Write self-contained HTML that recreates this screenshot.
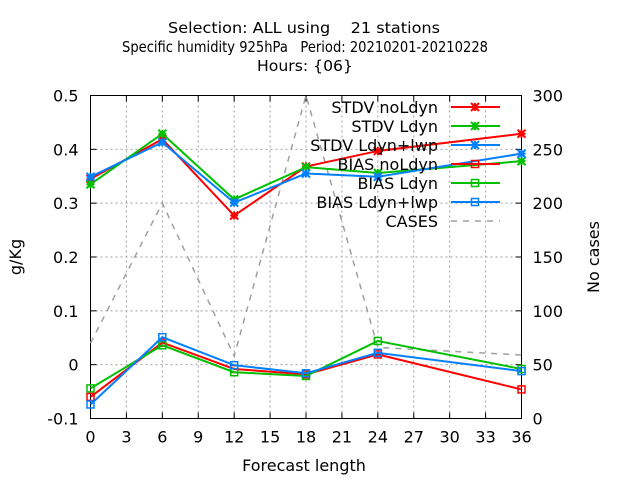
<!DOCTYPE html>
<html><head><meta charset="utf-8"><style>
body{margin:0;background:#fff}
svg text{font-family:"DejaVu Sans","Liberation Sans",sans-serif;font-size:16px;fill:#000;white-space:pre}
svg .ttl{font-size:15px}
</style></head><body>
<svg id="chart" width="640" height="480" xmlns="http://www.w3.org/2000/svg">
<rect width="640" height="480" fill="#fff"/>
<g>
<text class="ttl" x="304" y="33" text-anchor="middle" textLength="272" lengthAdjust="spacingAndGlyphs" xml:space="preserve">Selection: ALL using    21 stations</text>
<text class="ttl" x="305" y="52" text-anchor="middle" textLength="366" lengthAdjust="spacingAndGlyphs" xml:space="preserve">Specific humidity 925hPa   Period: 20210201-20210228</text>
<text class="ttl" x="305" y="71" text-anchor="middle" textLength="96" lengthAdjust="spacingAndGlyphs">Hours: {06}</text>
</g>
<g id="grid"></g>
<g id="axes"></g>
<g id="series"></g>
<g id="legend"></g>
<text x="304" y="471" text-anchor="middle">Forecast length</text>
<text transform="translate(21,257) rotate(-90)" text-anchor="middle">g/Kg</text>
<text transform="translate(599,257) rotate(-90)" text-anchor="middle">No cases</text>
</svg>
<script>
const categories=[0,6,12,18,24,36];
const stdvNoLdyn=[0.345,0.419,0.277,0.368,0.397,0.429];
const stdvLdyn=[0.335,0.429,0.307,0.367,0.356,0.378];
const stdvLwp=[0.349,0.413,0.301,0.355,0.349,0.392];
const biasNoLdyn=[-0.060,0.041,-0.008,-0.018,0.019,-0.046];
const biasLdyn=[-0.044,0.036,-0.014,-0.021,0.044,-0.008];
const biasLwp=[-0.074,0.051,-0.001,-0.016,0.022,-0.012];
const cases=[70,200,58,300,66,59];
const xTicks=[0,3,6,9,12,15,18,21,24,27,30,33,36];
const yTicks=[-0.1,0,0.1,0.2,0.3,0.4,0.5];
const yTickLabels=["-0.1","0","0.1","0.2","0.3","0.4","0.5"];
const y2Ticks=[0,50,100,150,200,250,300];

const L=90.5,R=521.5,T=95.5,B=418.5;
const NS="http://www.w3.org/2000/svg";
const xs=v=>L+(v-0)/36*(R-L);
const ys=v=>B-(v+0.1)/0.6*(B-T);
const y2s=v=>B-v/300*(B-T);
function mk(tag,attrs,parent){const e=document.createElementNS(NS,tag);for(const k in attrs)e.setAttribute(k,attrs[k]);parent.appendChild(e);return e;}
const grid=document.getElementById('grid'),axes=document.getElementById('axes'),ser=document.getElementById('series'),leg=document.getElementById('legend');
const gs={stroke:"#a0a0a0","stroke-width":1,"stroke-dasharray":"2,3"};
xTicks.forEach(v=>{
 if(v>0&&v<36){const g=mk('line',Object.assign({x1:xs(v),x2:xs(v),y1:T,y2:B},gs),grid);}
 const t=mk('text',{x:xs(v),y:B+24,'text-anchor':'middle'},axes);t.textContent=v;
 
 mk('line',{x1:xs(v),x2:xs(v),y1:B,y2:B-6,stroke:"#000"},axes);
 mk('line',{x1:xs(v),x2:xs(v),y1:T,y2:T+6,stroke:"#000"},axes);
});
yTicks.forEach((v,i)=>{
 if(i>0&&i<yTicks.length-1){const g=mk('line',Object.assign({x1:L,x2:R,y1:ys(v),y2:ys(v)},gs),grid);}
 const t=mk('text',{x:L-12,y:ys(v)+6,'text-anchor':'end'},axes);t.textContent=yTickLabels[i];
 
 mk('line',{x1:L,x2:L+6,y1:ys(v),y2:ys(v),stroke:"#000"},axes);
});
y2Ticks.forEach(v=>{
 const t=mk('text',{x:R+11,y:y2s(v)+6,'text-anchor':'start'},axes);t.textContent=v;
 
 mk('line',{x1:R,x2:R-6,y1:y2s(v),y2:y2s(v),stroke:"#000"},axes);
});
const box=mk('rect',{x:L,y:T,width:R-L,height:B-T,fill:"none",stroke:"#000"},axes);


function star(x,y,c,p){mk('path',{d:`M${x-4} ${y-4}L${x+4} ${y+4}M${x-4} ${y+4}L${x+4} ${y-4}M${x-4} ${y}H${x+4}M${x} ${y-4}V${y+4}`,stroke:c,'stroke-width':2},p);}
function sq(x,y,c,p){mk('rect',{x:x-3.5,y:y-3.5,width:7,height:7,fill:"none",stroke:c,'stroke-width':1.5},p);}
const series=[
 {name:"STDV noLdyn",d:stdvNoLdyn,c:"#ff0000",m:star,id:"stdv-noldyn"},
 {name:"STDV Ldyn",d:stdvLdyn,c:"#00c000",m:star,id:"stdv-ldyn"},
 {name:"STDV Ldyn+lwp",d:stdvLwp,c:"#0080ff",m:star,id:"stdv-ldyn-lwp"},
 {name:"BIAS noLdyn",d:biasNoLdyn,c:"#ff0000",m:sq,id:"bias-noldyn"},
 {name:"BIAS Ldyn",d:biasLdyn,c:"#00c000",m:sq,id:"bias-ldyn"},
 {name:"BIAS Ldyn+lwp",d:biasLwp,c:"#0080ff",m:sq,id:"bias-ldyn-lwp"}
];
const cg=mk('g',{},ser);

mk('polyline',{points:categories.map((c,i)=>xs(c)+","+y2s(cases[i])).join(" "),fill:"none",stroke:"#a0a0a0","stroke-width":1.5,"stroke-dasharray":"6,6"},cg);
series.forEach(s=>{
 const g=mk('g',{},ser);
 
 mk('polyline',{points:categories.map((c,i)=>xs(c)+","+ys(s.d[i])).join(" "),fill:"none",stroke:s.c,"stroke-width":2},g);
 categories.forEach((c,i)=>s.m(xs(c),ys(s.d[i]),s.c,g));
});
const rows=[...series.map(s=>({name:s.name,c:s.c,m:s.m,id:s.id})),{name:"CASES",c:"#a0a0a0",m:null,id:"cases"}];
rows.forEach((r,i)=>{
 const y=107+i*19;
 const g=mk('g',{},leg);
 
 const t=mk('text',{x:438,y:y+6,'text-anchor':'end'},g);t.textContent=r.name;
 if(r.m){mk('line',{x1:451,x2:500,y1:y,y2:y,stroke:r.c,'stroke-width':2},g);r.m(475,y,r.c,g);}
 else mk('line',{x1:451,x2:500,y1:y,y2:y,stroke:r.c,'stroke-width':1.5,'stroke-dasharray':'6,6'},g);
});
</script>
</body></html>
